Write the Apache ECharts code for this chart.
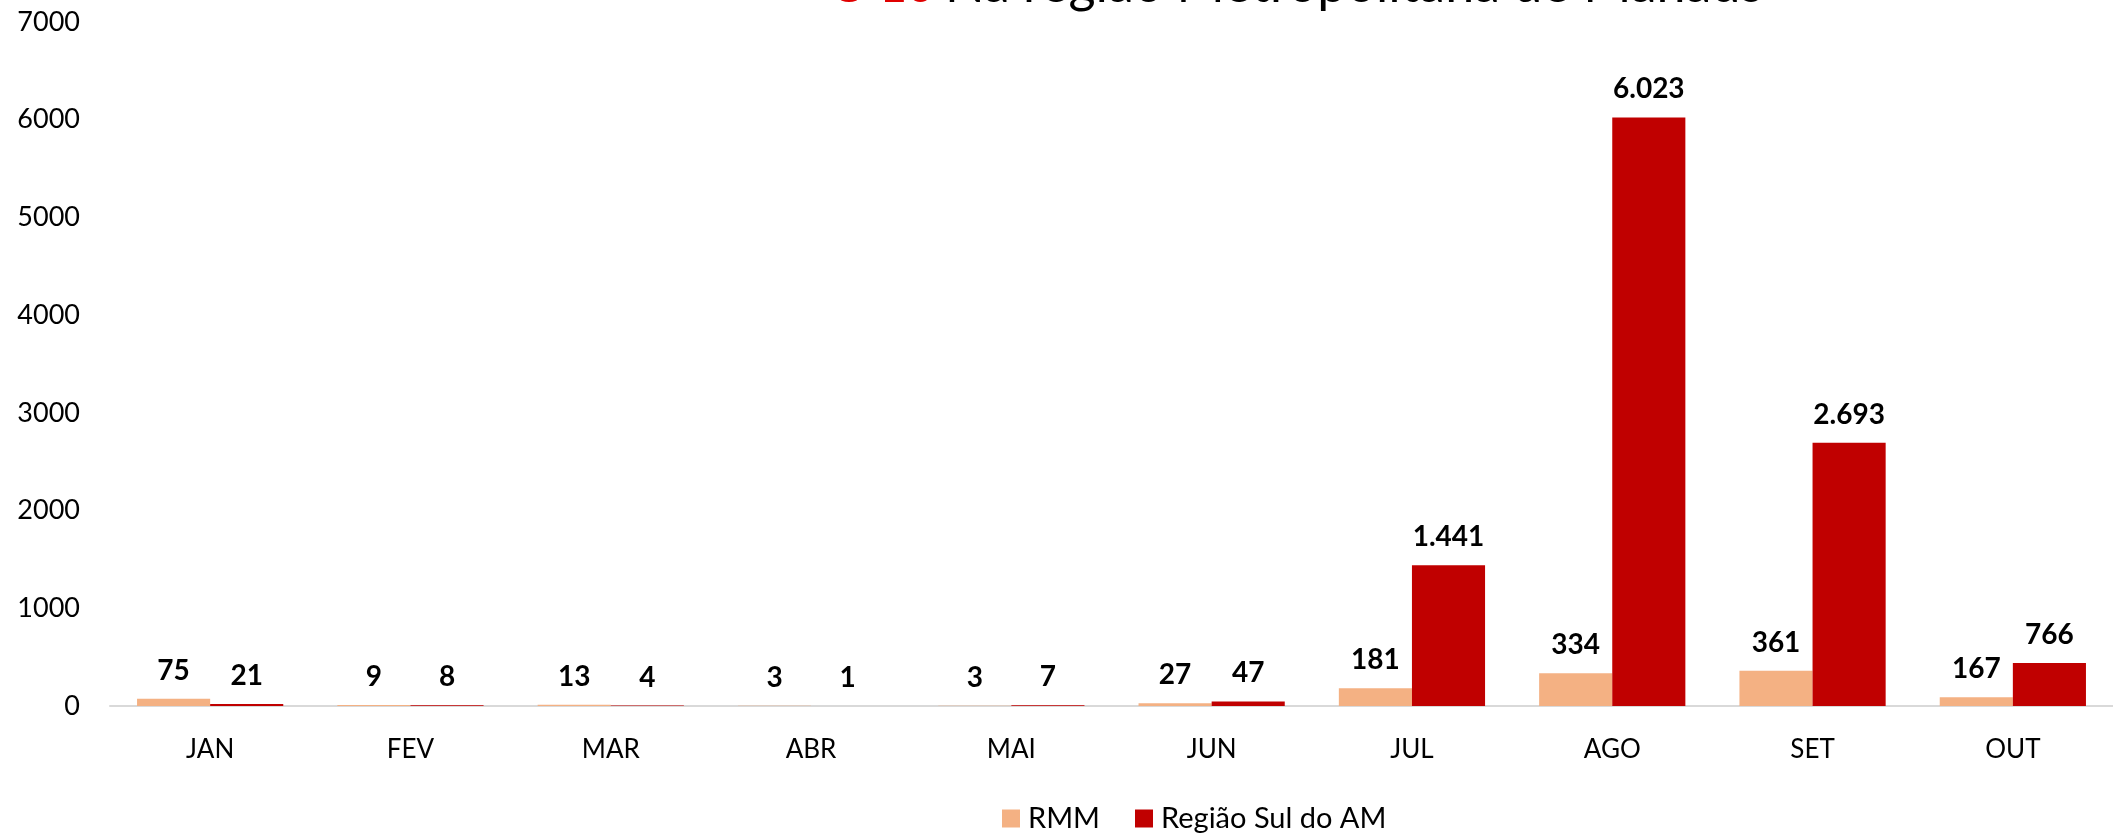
<!DOCTYPE html>
<html>
<head>
<meta charset="utf-8">
<script src="https://cdn.jsdelivr.net/npm/echarts@6/dist/echarts.min.js"></script>
<style>html,body{margin:0;padding:0;background:#fff;}#c{width:2113px;height:834px;}</style>
</head>
<body>
<div id="c"></div>
<script>
const categories = ['JAN','FEV','MAR','ABR','MAI','JUN','JUL','AGO','SET','OUT'];
const seriesNames = ['RMM','Região Sul do AM'];
// bar heights as drawn in the picture
const rmmValues = [75, 9, 13, 3, 3, 27, 181, 334, 361, 90];
const sulValues = [21, 8, 4, 1, 7, 47, 1441, 6023, 2693, 440];
// data labels as printed in the picture
const rmmLabels = ['75','9','13','3','3','27','181','334','361','167'];
const sulLabels = ['21','8','4','1','7','47','1.441','6.023','2.693','766'];
const yTicks = [0, 1000, 2000, 3000, 4000, 5000, 6000, 7000];
const titlePrefix = 'O 10';
const titleMain = 'Na região Metropolitana de Manaus';

const chart = echarts.init(document.getElementById('c'));
const labelCfg = (labels) => ({
  show: true, position: 'top', distance: 14,
  fontFamily: 'Lato', fontWeight: 'bold', fontSize: 28, color: '#000',
  formatter: p => labels[p.dataIndex]
});
chart.setOption({
  animation: false,
  graphic: [
    { type: 'text', left: 830, top: -37, z: 100,
      style: { text: titlePrefix, font: 'bold 47px Lato', fill: '#e00000' } },
    { type: 'text', left: 945, top: -41, z: 100,
      style: { text: titleMain, font: '52px Lato', fill: '#000' } }
  ],
  grid: { left: 110, right: 0, top: 22, bottom: 128 },
  legend: {
    data: seriesNames, left: 997, top: 799,
    itemWidth: 18, itemHeight: 18, itemGap: 35,
    icon: 'rect',
    textStyle: { fontFamily: 'Lato', fontSize: 29, color: '#000', padding: [0,0,0,3] }
  },
  xAxis: {
    type: 'category', data: categories,
    axisLine: { lineStyle: { color: '#d9d9d9', width: 2 } },
    axisTick: { show: false },
    axisLabel: { fontFamily: 'Lato', fontSize: 26, color: '#000', margin: 31 }
  },
  yAxis: {
    type: 'value', min: yTicks[0], max: yTicks[yTicks.length-1], interval: 1000,
    splitLine: { show: false },
    axisLine: { show: false }, axisTick: { show: false },
    axisLabel: { fontFamily: 'Lato', fontSize: 27, color: '#000', margin: 30, formatter: v => String(v) }
  },
  series: [
    { name: seriesNames[0], type: 'bar', data: rmmValues, barGap: '0%', barCategoryGap: '27%',
      itemStyle: { color: '#F4B183' }, label: labelCfg(rmmLabels) },
    { name: seriesNames[1], type: 'bar', data: sulValues, barGap: '0%', barCategoryGap: '27%',
      itemStyle: { color: '#C00000' }, label: labelCfg(sulLabels) }
  ]
});
</script>
</body>
</html>
